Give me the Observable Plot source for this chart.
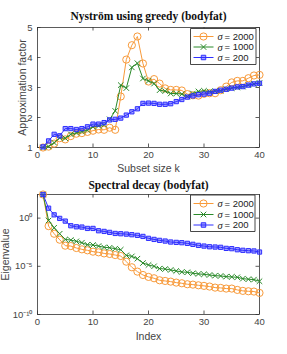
<!DOCTYPE html>
<html>
<head>
<meta charset="utf-8">
<script src="https://cdn.jsdelivr.net/npm/d3@7"></script>
<script src="https://cdn.jsdelivr.net/npm/@observablehq/plot@0.6"></script>
<style>
  html, body { margin: 0; padding: 0; background: white; }
  #c svg { display: block; }
</style>
</head>
<body>
<div id="c"></div>
<script>
// ---------- data ----------
const idx = [1,2,3,4,5,6,7,8,9,10,11,12,13,14,15,16,17,18,19,20,21,22,23,24,25,26,27,28,29,30,31,32,33,34,35,36,37,38,39,40];

// Approximation factor (Nyström using greedy)
const approx2000 = [1.0,1.03,1.13,1.31,1.27,1.38,1.46,1.48,1.52,1.56,1.6,1.59,1.66,1.59,2.7,3.93,4.41,4.7,3.8,3.2,3.28,3.13,2.97,2.92,2.92,2.9,2.78,2.74,2.73,2.79,2.81,2.81,2.91,3.03,3.17,3.22,3.22,3.31,3.4,3.42];
const approx1000 = [1.0,1.04,1.16,1.32,1.31,1.44,1.49,1.53,1.58,1.69,1.72,1.76,1.94,2.22,3.08,2.98,3.67,3.81,3.3,3.22,3.13,2.91,2.88,2.8,2.8,2.78,2.7,2.8,2.87,2.89,2.86,2.88,2.89,2.95,2.98,3.0,3.03,3.08,3.12,3.15];
const approx200  = [1.02,1.22,1.44,1.39,1.63,1.63,1.6,1.63,1.69,1.78,1.78,1.83,1.92,1.94,1.98,2.08,2.19,2.29,2.47,2.48,2.47,2.44,2.44,2.46,2.53,2.6,2.68,2.72,2.76,2.78,2.81,2.87,2.91,2.94,2.98,3.02,3.03,3.08,3.12,3.14];

// Spectral decay: log10 of eigenvalues
const logEig2000 = [2.45,-0.83,-1.62,-2.24,-2.86,-2.9,-3.1,-3.24,-3.34,-3.48,-3.55,-3.66,-3.72,-3.83,-3.93,-4.52,-5.1,-5.55,-5.9,-6.1,-6.24,-6.45,-6.52,-6.59,-6.69,-6.76,-6.86,-6.9,-6.97,-7.03,-7.1,-7.21,-7.24,-7.31,-7.31,-7.45,-7.55,-7.59,-7.62,-7.76];
const logEig1000 = [2.45,-0.24,-1.0,-1.62,-2.21,-2.28,-2.41,-2.55,-2.76,-2.79,-2.9,-3.03,-3.07,-3.17,-3.28,-3.86,-3.97,-4.21,-4.66,-4.86,-5.0,-5.24,-5.28,-5.38,-5.48,-5.59,-5.62,-5.72,-5.79,-5.83,-5.9,-5.97,-6.0,-6.07,-6.1,-6.14,-6.28,-6.34,-6.38,-6.55];
const logEig200  = [2.45,1.03,0.34,-0.03,-0.31,-0.79,-0.9,-0.93,-1.07,-1.07,-1.31,-1.38,-1.48,-1.59,-1.62,-1.66,-1.72,-1.79,-1.9,-2.1,-2.21,-2.31,-2.38,-2.48,-2.52,-2.55,-2.62,-2.72,-2.83,-2.9,-2.97,-3.0,-3.03,-3.14,-3.17,-3.28,-3.34,-3.38,-3.41,-3.52];

const sigmaValues = ["2000", "1000", "200"];
const xTicks = [0, 10, 20, 30, 40];
const yTicksTop = [1, 2, 3, 4, 5];
const yTicksBottom = [1e-10, 1e-5, 1e0];
const yTickLabelsBottom = ["10⁻¹⁰", "10⁻⁵", "10⁰"];
const titles = ["Nyström using greedy (bodyfat)", "Spectral decay (bodyfat)"];
const xLabels = ["Subset size k", "Index"];
const yLabels = ["Approximation factor", "Eigenvalue"];

// ---------- styling ----------
const colors = ["#f89a3a", "#2a8a2a", "#2f2fff"];
const symbols = ["circle", "times", "square"];
const fills = ["none", "none", "rgba(47,47,255,0.45)"];
const radii = [3.6, 2.6, 2.4];
const axisColor = "#333";
const textColor = "#444";

function toRows(ys, tf = v => v) {
  return ys.map((ys1, s) => idx.map((k, i) => ({k, v: tf(ys1[i]), s})));
}

function seriesMarks(rows) {
  const marks = [];
  rows.forEach((r, s) => {
    marks.push(Plot.line(r, {x: "k", y: "v", stroke: colors[s], strokeWidth: 1}));
    marks.push(Plot.dot(r, {x: "k", y: "v", stroke: colors[s], fill: fills[s], symbol: symbols[s], r: radii[s], strokeWidth: 1}));
  });
  return marks;
}

function frameTicks(innerW, innerH, yTicks) {
  const t = 3.5;
  return [
    Plot.tickX(xTicks, {x: d => d, stroke: axisColor, strokeWidth: 0.8, insetTop: innerH - t}),
    Plot.tickX(xTicks, {x: d => d, stroke: axisColor, strokeWidth: 0.8, insetBottom: innerH - t}),
    Plot.tickY(yTicks, {y: d => d, stroke: axisColor, strokeWidth: 0.8, insetRight: innerW - t}),
    Plot.tickY(yTicks, {y: d => d, stroke: axisColor, strokeWidth: 0.8, insetLeft: innerW - t})
  ];
}

function addLegend(svg, box, rows) {
  const g = d3.select(svg).append("g").attr("class", "legend").attr("text-anchor", "start");
  g.append("path")
    .attr("d", `M${box.x},${box.y}h${box.w}v${box.h}h${-box.w}Z`)
    .attr("fill", "#ffffff").attr("stroke", "#333333").attr("stroke-width", 0.9);
  rows.forEach((ry, s) => {
    const cx = box.x + 13;
    g.append("line").attr("x1", box.x + 3).attr("x2", box.x + 23).attr("y1", ry).attr("y2", ry)
      .attr("stroke", colors[s]).attr("stroke-width", 1);
    const sym = d3.symbol(s === 0 ? d3.symbolCircle : s === 1 ? d3.symbolTimes : d3.symbolSquare,
      s === 0 ? Math.PI * radii[0] ** 2 : s === 1 ? 22 : 20);
    g.append("path").attr("d", sym()).attr("transform", `translate(${cx},${ry})`)
      .attr("stroke", colors[s]).attr("fill", fills[s]).attr("stroke-width", 1);
    g.append("text").attr("x", box.x + 27).attr("y", ry).attr("dy", "0.34em").attr("text-anchor", "start")
      .attr("font-family", "Liberation Serif, serif").attr("font-style", "italic")
      .attr("font-size", 10.5).attr("fill", "#222").text("σ");
    g.append("text").attr("x", box.x + 34).attr("y", ry).attr("dy", "0.34em").attr("text-anchor", "start")
      .attr("font-family", "Liberation Sans, Arial, sans-serif")
      .attr("font-size", 9.5).attr("fill", "#222").text("= " + sigmaValues[s]);
  });
}

const W = 287, H = 177;
const ml = 37, mr = 28;
const baseStyle = {fontFamily: "Liberation Sans, Arial, sans-serif", fontSize: "9.5px", color: textColor, background: "white", overflow: "visible"};
const labelOpts = {fontSize: 10.5, fill: textColor, textAnchor: "middle", lineAnchor: "middle"};

// ---------- top chart ----------
const mt1 = 27, mb1 = 30;
const chartTop = Plot.plot({
  width: W, height: H,
  marginTop: mt1, marginBottom: mb1, marginLeft: ml, marginRight: mr,
  style: baseStyle,
  x: {domain: [0, 40]},
  y: {domain: [1, 5]},
  marks: [
    Plot.axisX(xTicks, {anchor: "bottom", tickSize: 0, tickPadding: 4, label: null, fill: textColor}),
    Plot.axisY(yTicksTop, {anchor: "left", tickSize: 0, tickPadding: 5, label: null, fill: textColor}),
    ...frameTicks(W - ml - mr, H - mt1 - mb1, yTicksTop),
    Plot.frame({stroke: axisColor, strokeWidth: 0.8}),
    ...seriesMarks(toRows([approx2000, approx1000, approx200])),
    Plot.text([titles[0]], {frameAnchor: "top", dy: -11, fontFamily: "Liberation Serif, serif", fontWeight: "bold", fontSize: 11.5, fill: "#111", textAnchor: "middle", lineAnchor: "middle"}),
    Plot.text([xLabels[0]], {frameAnchor: "bottom", dy: 21, ...labelOpts}),
    Plot.text([yLabels[0]], {frameAnchor: "left", dx: -15, rotate: -90, ...labelOpts})
  ]
});
addLegend(chartTop, {x: 190.5, y: 28.5, w: 65.5, h: 36}, [36.5, 47, 57.5]);

// ---------- bottom chart ----------
const mt2 = 17, mb2 = 40;
const chartBottom = Plot.plot({
  width: W, height: H,
  marginTop: mt2, marginBottom: mb2, marginLeft: ml, marginRight: mr,
  style: baseStyle,
  x: {domain: [0, 40]},
  y: {type: "log", domain: [1e-10, Math.pow(10, 2.45)]},
  marks: [
    Plot.axisX(xTicks, {anchor: "bottom", tickSize: 0, tickPadding: 4, label: null, fill: textColor}),
    Plot.axisY(yTicksBottom, {anchor: "left", tickSize: 0, tickPadding: 5, label: null, fill: textColor,
      tickFormat: d => yTickLabelsBottom[yTicksBottom.indexOf(d)]}),
    ...frameTicks(W - ml - mr, H - mt2 - mb2, yTicksBottom),
    Plot.frame({stroke: axisColor, strokeWidth: 0.8}),
    ...seriesMarks(toRows([logEig2000, logEig1000, logEig200], v => Math.pow(10, v))),
    Plot.text([titles[1]], {frameAnchor: "top", dy: -9, fontFamily: "Liberation Serif, serif", fontWeight: "bold", fontSize: 11.5, fill: "#111", textAnchor: "middle", lineAnchor: "middle"}),
    Plot.text([xLabels[1]], {frameAnchor: "bottom", dy: 22, ...labelOpts}),
    Plot.text([yLabels[1]], {frameAnchor: "left", dx: -32, rotate: -90, ...labelOpts})
  ]
});
addLegend(chartBottom, {x: 190.5, y: 18, w: 64.5, h: 36.5}, [26.5, 37.5, 48]);

document.getElementById("c").append(chartTop, chartBottom);
</script>
</body>
</html>
